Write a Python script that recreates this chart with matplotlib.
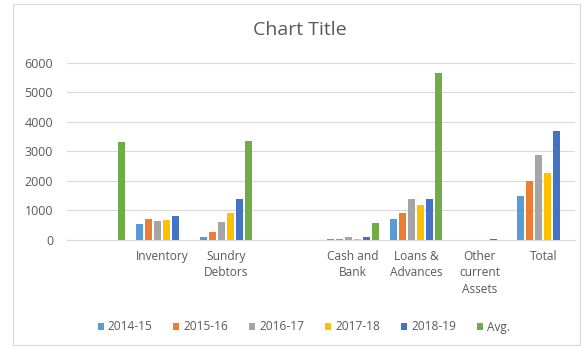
import matplotlib
matplotlib.use("Agg")
import matplotlib.pyplot as plt
from matplotlib.patches import Rectangle
import numpy as np

categories = ["", "Inventory", "Sundry\nDebtors", "", "Cash and\nBank",
              "Loans &\nAdvances", "Other\ncurrent\nAssets", "Total"]
series_names = ["2014-15", "2015-16", "2016-17", "2017-18", "2018-19", "Avg."]
v_2014_15 = [0, 540, 110, 0, 40, 710, 0, 1500]
v_2015_16 = [0, 700, 280, 0, 20, 925, 0, 1980]
v_2016_17 = [0, 640, 620, 0, 100, 1380, 0, 2860]
v_2017_18 = [0, 680, 925, 0, 50, 1190, 15, 2260]
v_2018_19 = [0, 810, 1380, 0, 100, 1380, 25, 3700]
v_avg = [3300, 0, 3360, 0, 565, 5650, 0, 0]
yticks = [0, 1000, 2000, 3000, 4000, 5000, 6000]

colors = ["#5B9BD5", "#ED7D31", "#A5A5A5", "#FFC000", "#4472C4", "#70AD47"]
series = [v_2014_15, v_2015_16, v_2016_17, v_2017_18, v_2018_19, v_avg]

plt.rcParams['font.family'] = ['Open Sans', 'DejaVu Sans']
fig = plt.figure(figsize=(5.84, 3.49), dpi=100)
fig.patches.append(Rectangle((13/584, 1-345/349), (580-13)/584, (345-4)/349,
                             transform=fig.transFigure, fill=False,
                             edgecolor="#D9D9D9", linewidth=0.8))
ax = fig.add_axes([67/584, 1-240/349, (575-67)/584, (240-62.7)/349])

x = np.arange(len(categories))
n = len(series)
w = 0.142
for i, (vals, c, name) in enumerate(zip(series, colors, series_names)):
    offs = (i - (n - 1) / 2) * w
    ax.bar(x + offs, vals, width=w * 0.8, color=c, label=name, zorder=3)

ax.set_xlim(-0.5, len(categories) - 0.5)
ax.set_ylim(0, 6000)
ax.set_yticks(yticks)
ax.set_yticklabels([str(t) for t in yticks])
ax.set_xticks(x)
ax.set_xticklabels(categories, linespacing=1.35)
ax.grid(axis="y", color="#D9D9D9", linewidth=0.8, zorder=0)
for s in ["top", "right", "left"]:
    ax.spines[s].set_visible(False)
ax.spines["bottom"].set_color("#D9D9D9")
ax.tick_params(axis="both", length=0, colors="#595959", labelsize=8.6)
ax.tick_params(axis="y", pad=10, labelsize=9)
ax.tick_params(axis="x", pad=7)

fig.text(300/584, 1-30/349, "Chart Title", ha="center", va="center",
         fontsize=14, color="#595959")
leg = fig.legend(loc="center", bbox_to_anchor=(304/584, 1-327/349), ncol=6,
                 frameon=False, fontsize=8.6, handlelength=0.5, handleheight=0.5,
                 handletextpad=0.35, columnspacing=1.75, labelcolor="#595959")
fig.savefig("out.png", dpi=100)
